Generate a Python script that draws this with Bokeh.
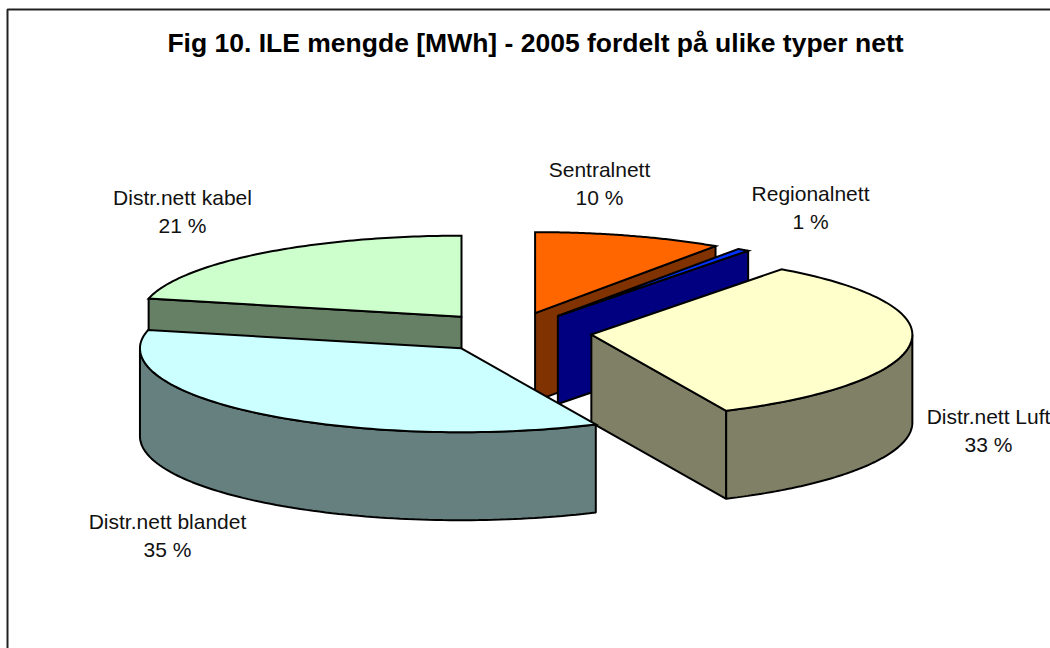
import math
from bokeh.plotting import figure
from bokeh.models import Range1d
from bokeh.core.properties import value
from bokeh.embed import file_html
from bokeh.resources import INLINE

# data
title = "Fig 10. ILE mengde [MWh] - 2005 fordelt på ulike typer nett"
names = ["Sentralnett", "Regionalnett", "Distr.nett Luft", "Distr.nett blandet", "Distr.nett kabel"]
shares = [9.5, 0.6, 33.0, 35.49, 21.41]
top_colors = ["#FF6600", "#0033FF", "#FFFFCC", "#CCFFFF", "#CCFFCC"]
side_colors = ["#803300", "#000080", "#808066", "#668080", "#668066"]

# layout of the projected pie (page pixels)
CX, CY, RX, RY_BACK, RY_FRONT, DEPTH, EXPLODE = 511, 332, 321, 81, 84, 88, 0.25
LINE = 2
label_xy = [(599, 169), (810, 193), (988, 416), (167, 521), (182, 197)]
label_gap = 28
draw_order = [4, 0, 1, 2, 3]

W, H = 1050, 648
p = figure(width=W, height=H, x_range=Range1d(0, W), y_range=Range1d(H, 0),
           output_backend="svg", toolbar_location=None, min_border=0,
           outline_line_color=None, background_fill_color="white")
p.axis.visible = False
p.grid.visible = False

# chart frame (top and left are inside the window)
p.line([7, 7, 1060], [660, 9, 9], line_color="#222222", line_width=2)

total = sum(shares)
edges = [0.0]
for s in shares:
    edges.append(edges[-1] + s / total * 2 * math.pi)


def arc(a, b, n=90):
    return [a + (b - a) * i / n for i in range(n + 1)]


for i in draw_order:
    a, b = edges[i], edges[i + 1]
    mid = (a + b) / 2
    ax = CX + EXPLODE * RX * math.sin(mid)
    ay = CY - EXPLODE * RY_BACK * math.cos(mid)
    px = lambda t: ax + RX * math.sin(t)
    py = lambda t: ay - (RY_BACK if math.cos(t) > 0 else RY_FRONT) * math.cos(t)

    # radial faces turned towards the viewer
    if math.sin(b) > 1e-6:
        p.patch([ax, px(b), px(b), ax], [ay, py(b), py(b) + DEPTH, ay + DEPTH],
                fill_color=side_colors[i], line_color="black", line_width=LINE)
    if -math.sin(a) > 1e-6:
        p.patch([ax, px(a), px(a), ax], [ay, py(a), py(a) + DEPTH, ay + DEPTH],
                fill_color=side_colors[i], line_color="black", line_width=LINE)

    # outer wall on the front half
    w0, w1 = max(a, math.pi / 2), min(b, 3 * math.pi / 2)
    if w1 > w0:
        ts = arc(w0, w1)
        xs = [px(t) for t in ts]
        ys = [py(t) for t in ts]
        p.patch(xs + xs[::-1], ys + [y + DEPTH for y in ys[::-1]],
                fill_color=side_colors[i], line_color="black", line_width=LINE)

    # top face
    ts = arc(a, b)
    p.patch([ax] + [px(t) for t in ts], [ay] + [py(t) for t in ts],
            fill_color=top_colors[i], line_color="black", line_width=LINE, line_join="miter")

# texts
p.text([535], [42], text=[title], text_font=value("Liberation Sans"), text_font_style="bold",
       text_font_size="26.5px", text_align="center", text_baseline="middle", text_color="black")
for name, s, (lx, ly) in zip(names, shares, label_xy):
    p.text([lx, lx], [ly, ly + label_gap], text=[name, f"{math.ceil(s) if s < 1 else round(s)} %"],
           text_font=value("Liberation Sans"), text_font_size="21px",
           text_align="center", text_baseline="middle", text_color="#111111")

open("out.html", "w").write(file_html(p, INLINE))
